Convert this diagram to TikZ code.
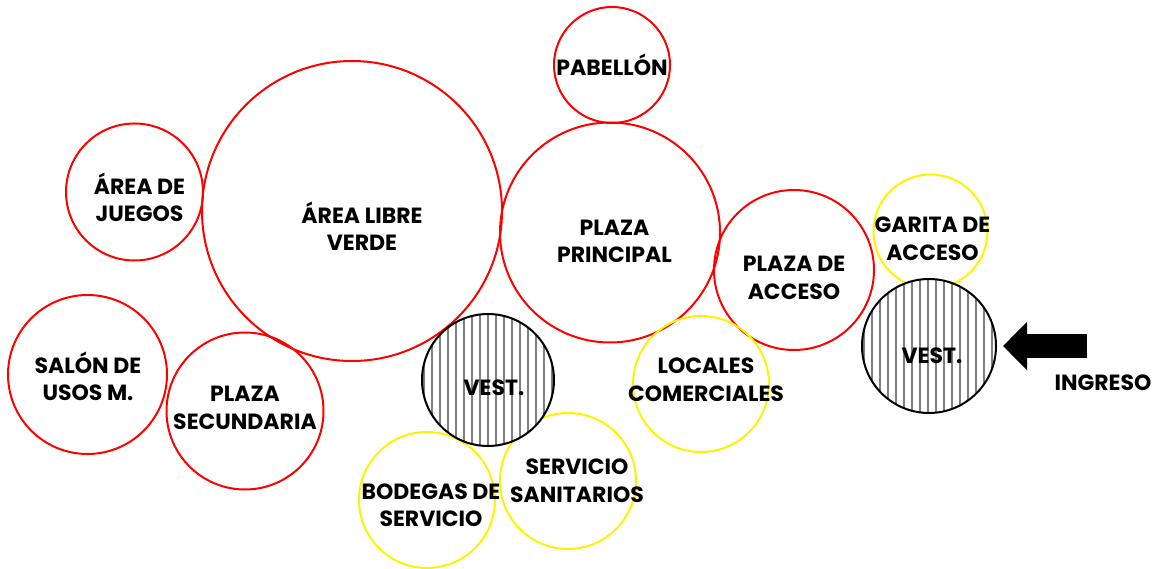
\documentclass[tikz,border=0pt]{standalone}
\usepackage{fontspec}
\setmainfont{Poppins}
\usetikzlibrary{arrows.meta,patterns.meta}

\begin{document}
\begin{tikzpicture}[x=1pt,y=-1pt,every node/.style={font=\bfseries\fontsize{22}{27.5}\selectfont,align=center},
  zona/.style={circle,draw=red,line width=2pt,minimum size=#1,inner sep=0pt},
  servicio/.style={circle,draw=yellow,line width=2pt,minimum size=#1,inner sep=0pt},
  vest/.style={circle,draw=black,line width=2pt,minimum size=#1,inner sep=0pt,preaction={fill=white},
    pattern={Lines[angle=90,distance=8pt,line width=1.6pt]},pattern color=gray}]
\useasboundingbox (0,0) rectangle (1160,569);
\node[zona=116] (pabellon) at (612,65) {};
\node[zona=300] (verde) at (352,211) {};
\node[zona=137] (juegos) at (134.5,192) {};
\node[zona=220] (principal) at (610,232.5) {};
\node[zona=160] (acceso) at (794,270) {};
\node[zona=159] (salon) at (87.5,374.5) {};
\node[zona=157] (secundaria) at (245,411) {};
\node[servicio=114] (garita) at (930.5,231.5) {};
\node[servicio=136] (locales) at (701,384) {};
\node[servicio=136] (bodegas) at (427,500) {};
\node[servicio=136] (sanitarios) at (568,481) {};
\node[vest=132] (vestcentro) at (488,380) {};
\node[vest=134] (vestingreso) at (929,346) {};
\node (tpabellon) at (612,64.5) {PABELLÓN};
\node (tverde) at (362,226.5) {ÁREA LIBRE\\VERDE};
\node (tjuegos) at (139.5,197.5) {ÁREA DE\\JUEGOS};
\node (tprincipal) at (614.5,241.5) {PLAZA\\PRINCIPAL};
\node (tacceso) at (794,278) {PLAZA DE\\ACCESO};
\node (tgarita) at (932.5,239) {GARITA DE\\ACCESO};
\node (tsalon) at (88,376.5) {SALÓN DE\\USOS M.};
\node (tsecundaria) at (245,408) {PLAZA\\SECUNDARIA};
\node (tlocales) at (706,379.5) {LOCALES\\COMERCIALES};
\node (tbodegas) at (431,505) {BODEGAS DE\\SERVICIO};
\node (tsanitarios) at (577,480.5) {SERVICIO\\SANITARIOS};
\node (tvestcentro) at (494,387.5) {VEST.};
\node (tvestingreso) at (932,355.5) {VEST.};
\node (tingreso) at (1103,383) {INGRESO};
\coordinate (ingresocola) at (1087,346);
\draw[line width=24pt,-{Triangle[length=24pt,width=47pt]},shorten >=6pt] (ingresocola) -- (vestingreso);
\end{tikzpicture}
\end{document}
